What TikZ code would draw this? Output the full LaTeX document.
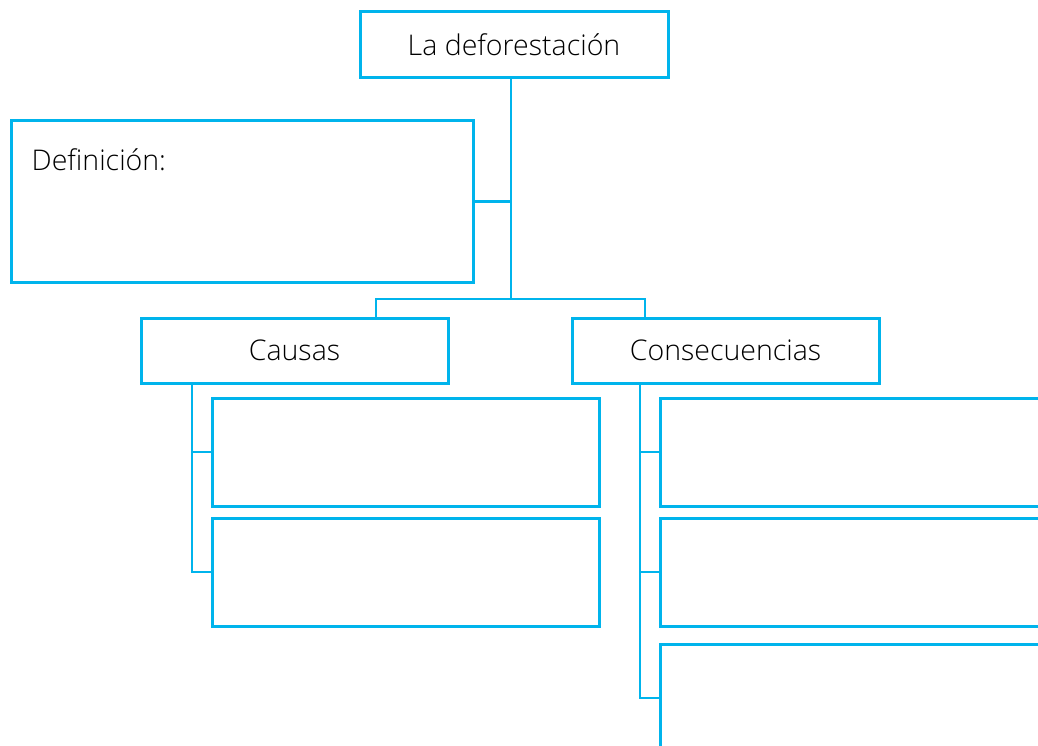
\documentclass[tikz,border=0pt]{standalone}
\usepackage{fontspec}
\setmainfont{Open Sans}[UprightFont=* Light]
\definecolor{skyblue}{HTML}{00B4EC}

\begin{document}
\begin{tikzpicture}[x=1pt, y=-1pt,
    box/.style={draw=skyblue, line width=3pt, inner sep=0pt,
      font=\fontsize{28.5}{32}\selectfont},
    link/.style={draw=skyblue, line width=2pt}]
    \useasboundingbox (0,0) rectangle (1038,746);
    \clip (0,0) rectangle (1038,746);

    % title and definition
    \node[box, minimum width=308, minimum height=66] (title) at (514,45) {La deforestación};
    \node[box, minimum width=462, minimum height=161] (def) at (242,201.5) {};
    \node[anchor=west, inner sep=0pt, font=\fontsize{28.5}{32}\selectfont]
      (deftext) at ([xshift=22pt, yshift=-40pt]def.north west) {Definición:};

    % the two branches
    \node[box, minimum width=307, minimum height=65] (causas) at (294.5,350.5) {Causas};
    \node[box, minimum width=307, minimum height=65] (conseq) at (725.5,350.5) {Consecuencias};

    % empty boxes under causas
    \node[box, minimum width=387, minimum height=108] (c1) at (405.5,452) {};
    \node[box, minimum width=387, minimum height=108] (c2) at (405.5,572) {};

    % empty boxes under consecuencias
    \node[box, minimum width=385, minimum height=108] (k1) at (852.5,452) {};
    \node[box, minimum width=385, minimum height=108] (k2) at (852.5,572) {};
    \node[box, minimum width=385, minimum height=108] (k3) at (852.5,698) {};

    % connectors
    \coordinate (top) at ([xshift=-3pt]title.south);
    \coordinate (fork) at (top |- 0,299);
    \draw[link] (top) -- (fork);
    \draw[link] (def.east) -- (def.east -| top);
    \draw[link] ([xshift=81.5pt]causas.north) |- (fork) -| ([xshift=-80.5pt]conseq.north);

    \coordinate (ctrunk) at ([xshift=-19pt]c1.west);
    \draw[link] (causas.south -| ctrunk) |- (c2.west);
    \draw[link] (ctrunk) -- (c1.west);

    \coordinate (ktrunk) at ([xshift=-19pt]k1.west);
    \draw[link] (conseq.south -| ktrunk) |- (k3.west);
    \draw[link] (ktrunk) -- (k1.west);
    \draw[link] (k2.west -| ktrunk) -- (k2.west);
  \end{tikzpicture}
\end{document}
